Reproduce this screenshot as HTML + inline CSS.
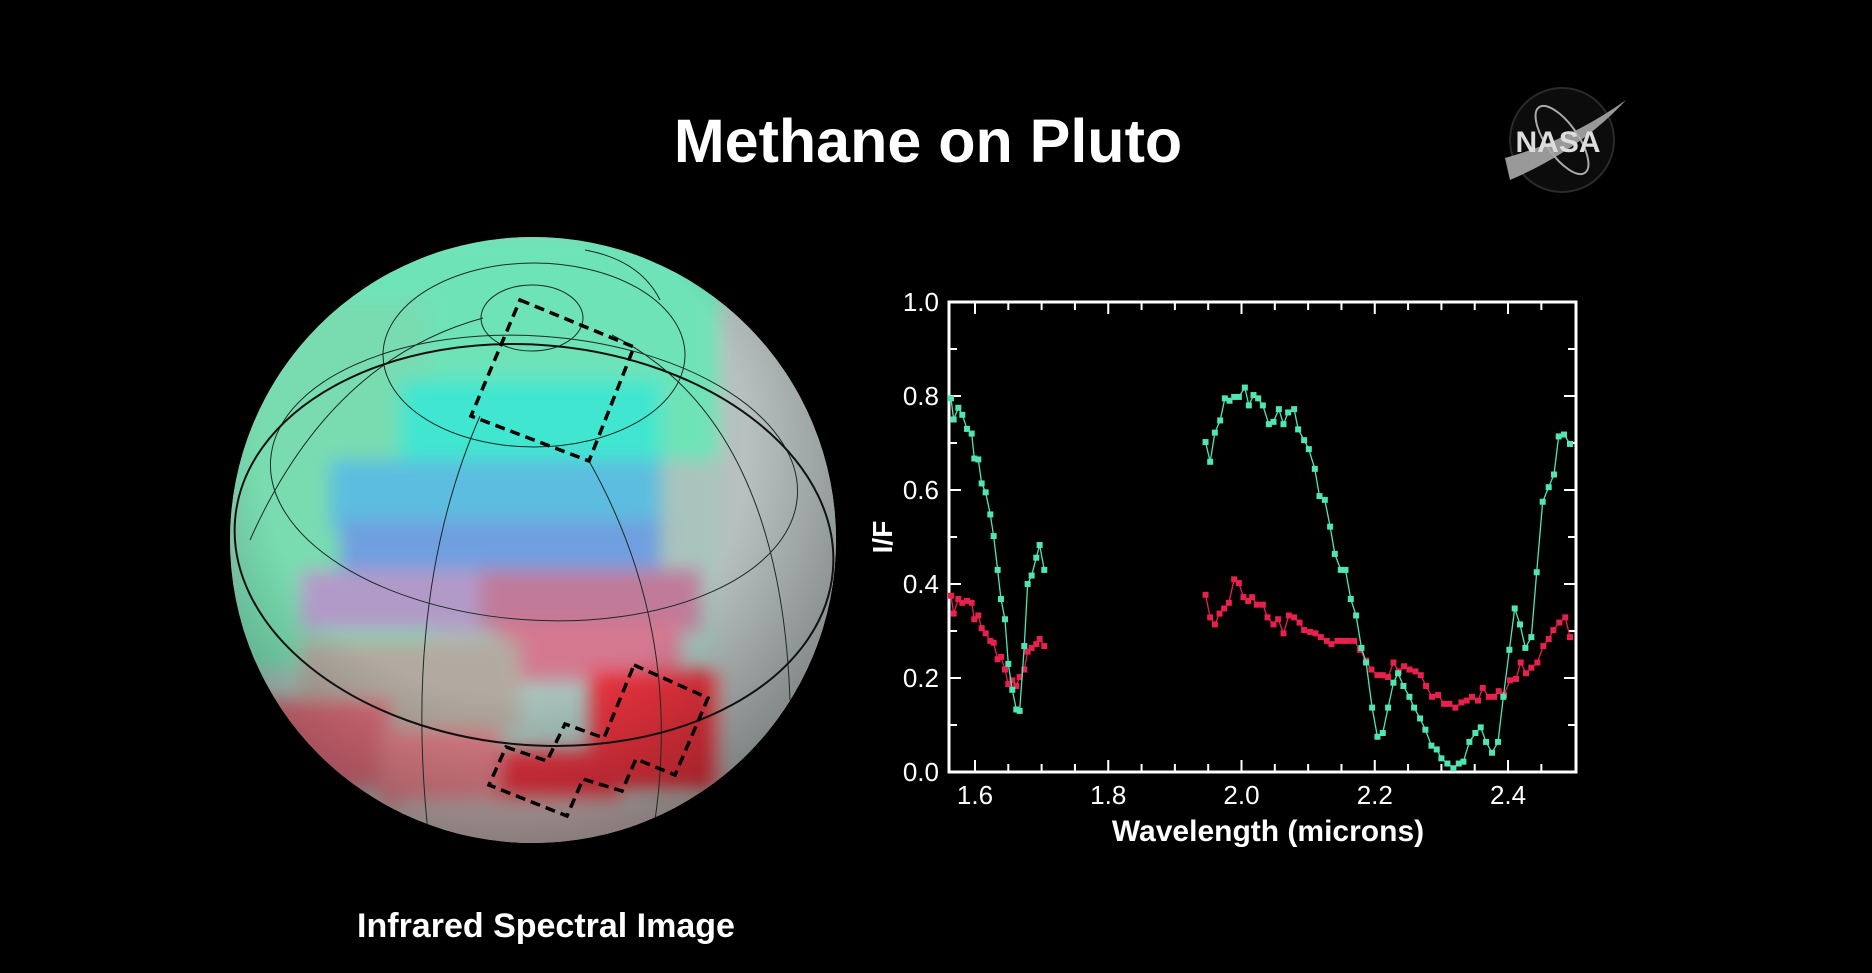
<!DOCTYPE html>
<html><head><meta charset="utf-8"><style>
html,body{margin:0;padding:0;background:#000;width:1872px;height:973px;overflow:hidden}
svg{display:block}
text{font-family:"Liberation Sans",sans-serif}
</style></head><body>
<svg id="root" width="1872" height="973" viewBox="0 0 1872 973">
<defs>
<clipPath id="sc"><circle cx="533" cy="540" r="303"/></clipPath>
<filter id="bl"><feGaussianBlur stdDeviation="9"/></filter>
<radialGradient id="shade" cx="0.45" cy="0.35" r="0.7">
<stop offset="0.55" stop-color="#000" stop-opacity="0"/><stop offset="1" stop-color="#000" stop-opacity="0.4"/></radialGradient>
</defs>
<text x="928" y="162" text-anchor="middle" font-size="61" font-weight="bold" fill="#fff">Methane on Pluto</text>

<g>
<circle cx="1562" cy="140" r="52" fill="#0c0c0c" stroke="#2a2a2a" stroke-width="2"/>
<path d="M1505 158 Q1570 140 1626 100 Q1580 150 1510 180 Z" fill="#999"/>
<ellipse cx="1562" cy="140" rx="16" ry="40" transform="rotate(-35 1562 140)" fill="none" stroke="#aaa" stroke-width="2"/>
<text x="1558" y="152" text-anchor="middle" font-size="30" font-weight="bold" font-family="Liberation Serif" fill="#ddd">NASA</text>
</g>

<g>
<g clip-path="url(#sc)">
<rect x="220" y="230" width="630" height="630" fill="#a9c4bd"/>
<g filter="url(#bl)">
<rect x="220" y="230" width="520" height="230" fill="#6ee3b8"/>
<rect x="230" y="300" width="200" height="370" fill="#78dcb0"/>
<rect x="400" y="380" width="260" height="90" fill="#3fe6d0"/>
<rect x="330" y="460" width="330" height="70" fill="#5bbde0"/>
<rect x="340" y="520" width="320" height="60" fill="#6f9fe0"/>
<rect x="300" y="570" width="200" height="60" fill="#b29ac8"/>
<rect x="480" y="570" width="220" height="60" fill="#c07a9a"/>
<rect x="500" y="620" width="180" height="60" fill="#d47890"/>
<rect x="720" y="300" width="140" height="520" fill="#b8c0c0"/>
<rect x="300" y="640" width="220" height="90" fill="#b2aaa0"/>
<rect x="230" y="700" width="160" height="90" fill="#d86b78"/>
<rect x="380" y="730" width="120" height="80" fill="#e07f88"/>
<rect x="590" y="670" width="130" height="120" fill="#e8323e"/>
<rect x="500" y="750" width="120" height="70" fill="#e53040"/>
<rect x="400" y="800" width="300" height="60" fill="#c8b4b4"/>
</g>
<rect x="220" y="230" width="630" height="630" fill="url(#shade)"/>
<g fill="none" stroke="#1a2a25" stroke-width="1">
<ellipse cx="532" cy="318" rx="51" ry="33"/>
<ellipse cx="534" cy="355" rx="151" ry="92"/>
<ellipse cx="534" cy="478" rx="264" ry="142" transform="rotate(4 534 478)"/>
<path d="M483 318 Q330 360 250 540 M612 335 Q780 420 790 700"/>
<path d="M480 416 Q400 600 430 850 M589 461 Q690 640 650 850"/>
<path d="M585 250 Q640 260 660 300"/>
</g>
<ellipse cx="534" cy="545" rx="300" ry="200" transform="rotate(5 534 545)" fill="none" stroke="#111" stroke-width="2"/>
</g>
<polygon points="520,300 634,347 589,461 471,416" fill="none" stroke="#000" stroke-width="3.5" stroke-dasharray="10,6"/>
<polygon points="634,665 708,698 675,775 636,759 622,791 583,779 567,816 489,785 506,747 547,761 565,724 604,738" fill="none" stroke="#000" stroke-width="3.5" stroke-dasharray="10,6"/>
</g>
<text x="546" y="937" text-anchor="middle" font-size="34" font-weight="bold" fill="#fff">Infrared Spectral Image</text>

<g id="chart"></g>
</svg>
<script>
const xTicks=[1.6,1.8,2.0,2.2,2.4];
const xTickLabels=["1.6","1.8","2.0","2.2","2.4"];
const yTicks=[0,0.2,0.4,0.6,0.8,1.0];
const yTickLabels=["0.0","0.2","0.4","0.6","0.8","1.0"];
const seg1Wave=[1.564,1.568,1.575,1.581,1.588,1.595,1.599,1.605,1.610,1.616,1.623,1.628,1.634,1.639,1.645,1.650,1.656,1.662,1.667,1.674,1.679,1.685,1.692,1.697,1.704];
const greenSeg1=[0.795,0.75,0.775,0.76,0.73,0.72,0.667,0.665,0.614,0.595,0.548,0.502,0.43,0.368,0.325,0.23,0.175,0.133,0.13,0.268,0.40,0.418,0.456,0.483,0.43];
const redSeg1=[0.375,0.337,0.368,0.36,0.364,0.36,0.325,0.333,0.306,0.295,0.279,0.275,0.24,0.245,0.218,0.187,0.195,0.183,0.202,0.218,0.256,0.264,0.272,0.283,0.268];
const greenWave2=[1.946,1.953,1.960,1.968,1.975,1.982,1.989,1.996,2.005,2.011,2.018,2.025,2.032,2.041,2.048,2.056,2.063,2.070,2.079,2.085,2.094,2.101,2.110,2.117,2.125,2.133,2.140,2.149,2.156,2.164,2.172,2.180,2.187,2.196,2.204,2.212,2.220,2.228,2.235,2.243,2.252,2.259,2.268,2.276,2.285,2.293,2.300,2.309,2.318,2.326,2.333,2.342,2.351,2.359,2.367,2.376,2.385,2.393,2.402,2.410,2.418,2.426,2.435,2.443,2.452,2.461,2.469,2.476,2.484,2.493];
const greenSeg2=[0.702,0.66,0.722,0.748,0.795,0.79,0.798,0.798,0.818,0.78,0.802,0.795,0.78,0.74,0.745,0.772,0.74,0.765,0.772,0.729,0.706,0.687,0.645,0.587,0.579,0.522,0.464,0.43,0.43,0.368,0.333,0.264,0.233,0.137,0.075,0.083,0.137,0.19,0.21,0.183,0.16,0.137,0.114,0.09,0.056,0.048,0.029,0.018,0.008,0.018,0.022,0.064,0.083,0.095,0.064,0.041,0.064,0.16,0.26,0.348,0.314,0.264,0.287,0.425,0.575,0.606,0.633,0.714,0.718,0.698];
const redWave2=[1.946,1.953,1.960,1.967,1.974,1.981,1.989,1.996,2.003,2.010,2.016,2.023,2.032,2.039,2.048,2.055,2.063,2.071,2.079,2.087,2.094,2.103,2.111,2.119,2.128,2.135,2.144,2.152,2.160,2.169,2.178,2.187,2.195,2.204,2.212,2.220,2.228,2.236,2.244,2.252,2.261,2.269,2.277,2.286,2.295,2.304,2.312,2.321,2.330,2.338,2.346,2.355,2.362,2.371,2.379,2.386,2.394,2.403,2.412,2.419,2.427,2.435,2.444,2.453,2.461,2.468,2.477,2.486,2.493];
const redSeg2=[0.377,0.329,0.314,0.337,0.348,0.36,0.41,0.402,0.372,0.364,0.372,0.356,0.356,0.329,0.314,0.325,0.295,0.333,0.329,0.318,0.302,0.298,0.295,0.287,0.279,0.272,0.279,0.279,0.279,0.279,0.26,0.237,0.218,0.206,0.206,0.202,0.233,0.214,0.225,0.218,0.214,0.206,0.183,0.16,0.164,0.145,0.145,0.137,0.148,0.152,0.16,0.152,0.179,0.16,0.16,0.172,0.164,0.195,0.198,0.233,0.21,0.222,0.233,0.268,0.283,0.302,0.318,0.329,0.287];

const NS="http://www.w3.org/2000/svg";
const L=949,R=1576,T=302,B=772,X0=1.561,X1=2.502;
const sx=v=>L+(v-X0)/(X1-X0)*(R-L);
const sy=v=>B-v*(B-T);
const chart=document.getElementById('chart');
function mk(tag,attrs,parent){const e=document.createElementNS(NS,tag);for(const k in attrs)e.setAttribute(k,attrs[k]);(parent||chart).appendChild(e);return e;}

const tg=mk('g',{stroke:'#fff','stroke-width':2});


for(let i=0;i<=10;i++){const v=i/10,len=(i%2===0)?12:8,y=sy(v);
 mk('line',{x1:L,x2:L+len,y1:y,y2:y},tg);mk('line',{x1:R,x2:R-len,y1:y,y2:y},tg);}
for(let i=0;i<=18;i++){const v=1.55+i*0.05;if(v<X0||v>X1)continue;const x=sx(v);const maj=Math.abs(v*5-Math.round(v*5))<1e-6;const len=maj?12:8;
 mk('line',{x1:x,x2:x,y1:B,y2:B-len},tg);mk('line',{x1:x,x2:x,y1:T,y2:T+len},tg);}
const frame=mk('rect',{x:L,y:T,width:R-L,height:B-T,fill:'none',stroke:'#fff','stroke-width':3});


yTicks.forEach((v,i)=>{const t=mk('text',{x:L-10,y:sy(v)+9,'text-anchor':'end','font-size':26,fill:'#fff'});t.textContent=yTickLabels[i];
 
 });
xTicks.forEach((v,i)=>{const t=mk('text',{x:sx(v),y:B+32,'text-anchor':'middle','font-size':26,fill:'#fff'});t.textContent=xTickLabels[i];
 
 });
const xt=mk('text',{x:1268,y:841,'text-anchor':'middle','font-size':30,'font-weight':'bold',fill:'#fff'});xt.textContent='Wavelength (microns)';


const yt=mk('text',{x:892,y:537,'text-anchor':'middle','font-size':28,'font-weight':'bold',fill:'#fff',transform:'rotate(-90 892 537)'});yt.textContent='I/F';



function series(ws,vs,col,name){
 const g=mk('g',{});
 
 
 mk('polyline',{points:ws.map((w,i)=>sx(w)+','+sy(vs[i])).join(' '),fill:'none',stroke:col,'stroke-width':1.3},g);
 ws.forEach((w,i)=>{const r=mk('rect',{x:sx(w)-3,y:sy(vs[i])-3,width:6,height:6,fill:col},g);
  
  });
}
series(seg1Wave,redSeg1,'#e8204c','red-series-segment-1');
series(redWave2,redSeg2,'#e8204c','red-series-segment-2');
series(seg1Wave,greenSeg1,'#50e6b4','green-series-segment-1');
series(greenWave2,greenSeg2,'#50e6b4','green-series-segment-2');
</script>
</body></html>
